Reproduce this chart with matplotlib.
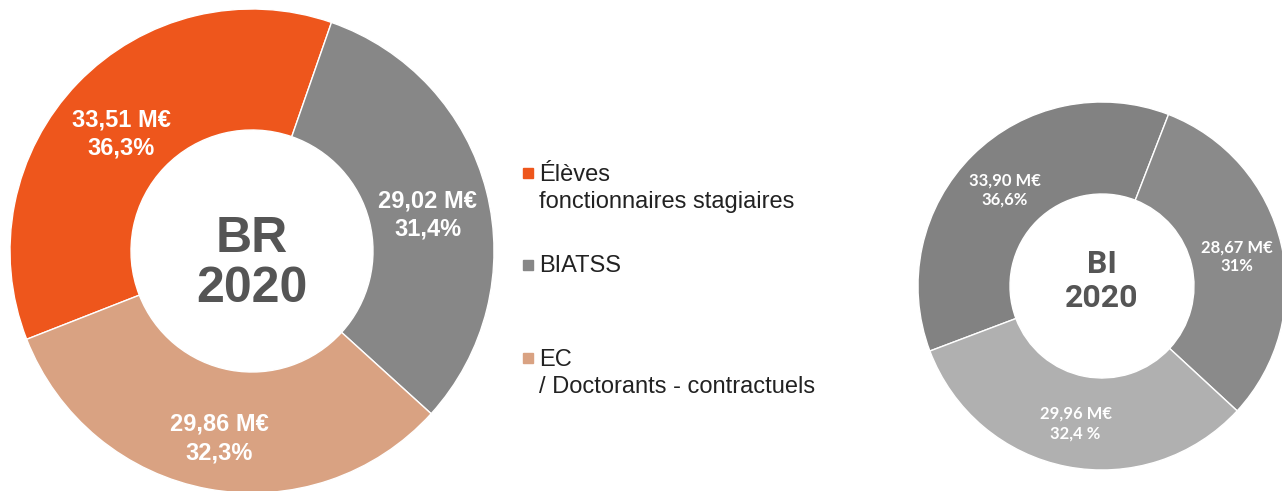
import numpy as np
import matplotlib.pyplot as plt

# ------------------------------------------------------------------
# DATA
# ------------------------------------------------------------------
categories = ["Élèves\nfonctionnaires stagiaires", "BIATSS",
              "EC\n/ Doctorants - contractuels"]

br_values = [33.51, 29.02, 29.86]
br_labels = ["33,51 M€\n36,3%", "29,02 M€\n31,4%", "29,86 M€\n32,3%"]

bi_values = [33.90, 28.67, 29.96]
bi_labels = ["33,90 M€\n36,6%", "28,67 M€\n31%", "29,96 M€\n32,4 %"]

br_colors = ["#EE561C", "#878787", "#D9A282"]
bi_colors = ["#828282", "#8A8A8A", "#B0B0B0"]

# ------------------------------------------------------------------
# FIGURE (axes in pixel units)
# ------------------------------------------------------------------
W, H = 1282, 491
fig = plt.figure(figsize=(W / 100, H / 100), dpi=100)
ax = fig.add_axes([0, 0, 1, 1])


def donut(center, radius, hole, values, colors, labels, start, title,
          lab_font, lab_size, lab_ls, lab_dy, title_font, title_size,
          title_dy, title_ls):
    wedges, _ = ax.pie(values, colors=colors, center=center, radius=radius,
                       startangle=start, counterclock=False, frame=True,
                       wedgeprops=dict(width=radius - hole, edgecolor="white",
                                       linewidth=1.0))
    mid_r = (radius + hole) / 2
    for w, lab in zip(wedges, labels):
        ang = np.deg2rad((w.theta1 + w.theta2) / 2)
        x = center[0] + mid_r * np.cos(ang)
        y = center[1] + mid_r * np.sin(ang) + lab_dy
        ax.text(x, y, lab, ha="center", va="center", color="white",
                fontsize=lab_size, fontweight="bold", family=lab_font,
                linespacing=lab_ls)
    ax.text(center[0], center[1] + title_dy, title, ha="center", va="center",
            color="#555555", fontsize=title_size, fontweight="bold",
            family=title_font, linespacing=title_ls)


# Left donut: BR 2020
donut((252, 240), 242, 121, br_values, br_colors, br_labels, 201.4,
      "BR\n2020", "Liberation Sans", 17, 1.3, -9,
      "Liberation Sans", 36, -13, 1.1)

# Right donut: BI 2020
donut((1102, 205), 184, 92, bi_values, bi_colors, bi_labels, 200.7,
      "BI\n2020", "Lato", 12, 1.25, -2, "Roboto", 23, 5, 1.15)

ax.set_xlim(0, W)
ax.set_ylim(0, H)
ax.set_aspect("equal")
ax.axis("off")

# ------------------------------------------------------------------
# LEGEND (drawn by hand)
# ------------------------------------------------------------------
leg_y = [318, 226.5, 133.5]
for cat, col, y in zip(categories, br_colors, leg_y):
    ax.add_patch(plt.Rectangle((523, y - 5), 10, 10, color=col))
    ax.text(539, y + 9, cat, ha="left", va="top", color="#222222",
            fontsize=17, family="Liberation Sans", linespacing=1.3)

fig.savefig("out.png", dpi=100)
